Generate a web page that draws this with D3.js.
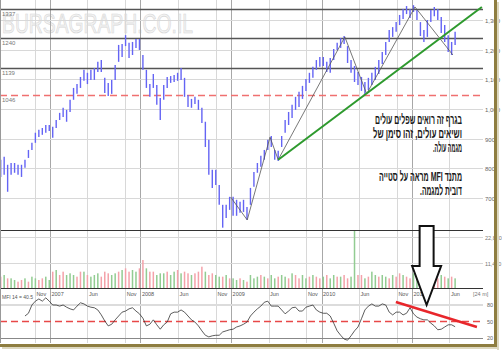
<!DOCTYPE html>
<html>
<head>
<meta charset="utf-8">
<script src="https://cdn.jsdelivr.net/npm/d3@7"></script>
<style>
  body { margin: 0; background: #fff; }
  svg { display: block; }
  text { font-family: "Liberation Sans", Arial, sans-serif; }
</style>
</head>
<body>
<div id="chart"></div>
<script>
// two-week bars, first bar 16 Jun 2006
const firstBar = new Date(2006, 5, 16);

const highs = [829, 839, 812, 818, 818, 812, 812, 829, 862, 886, 920, 930, 936, 946, 946, 940, 963, 987, 1004, 997,
  1031, 1071, 1084, 1108, 1132, 1122, 1132, 1138, 1159, 1165, 1105, 1088, 1098, 1148, 1216, 1219, 1249, 1223, 1226, 1236,
  1236, 1182, 1132, 1084, 1118, 1081, 1037, 1081, 1108, 1111, 1115, 1122, 1138, 1105, 1047, 1034, 1041, 1031, 1004, 957,
  896, 795, 795, 744, 677, 677, 704, 704, 694, 687, 694, 670, 734, 788, 818, 842, 862, 896, 909, 862,
  859, 909, 963, 990, 1014, 1041, 1058, 1078, 1101, 1122, 1142, 1165, 1175, 1175, 1159, 1172, 1202, 1223, 1239, 1246,
  1212, 1165, 1145, 1125, 1108, 1091, 1105, 1122, 1142, 1165, 1192, 1226, 1266, 1276, 1293, 1317, 1337, 1347, 1337, 1350,
  1334, 1293, 1266, 1300, 1334, 1344, 1337, 1310, 1283, 1249, 1226, 1260];

const lows = [771, 778, 721, 778, 785, 778, 771, 802, 835, 862, 886, 906, 913, 920, 926, 903, 936, 963, 973, 957,
  990, 1031, 1051, 1071, 1095, 1084, 1098, 1098, 1125, 1125, 1054, 1044, 1051, 1098, 1159, 1175, 1212, 1172, 1182, 1206,
  1199, 1132, 1071, 1041, 1071, 1014, 963, 1031, 1071, 1088, 1091, 1095, 1098, 1041, 1007, 1004, 1017, 997, 953, 872,
  778, 734, 744, 677, 600, 633, 660, 640, 640, 650, 653, 627, 677, 738, 785, 805, 829, 862, 872, 829,
  825, 872, 920, 946, 970, 997, 1007, 1034, 1061, 1088, 1105, 1132, 1142, 1145, 1125, 1122, 1165, 1199, 1206, 1219,
  1155, 1122, 1091, 1081, 1061, 1047, 1064, 1081, 1098, 1118, 1152, 1182, 1226, 1243, 1260, 1283, 1303, 1320, 1307, 1327,
  1300, 1246, 1226, 1243, 1293, 1313, 1300, 1256, 1226, 1192, 1182, 1216];

const volumes = [5080, 5830, 4330, 4330, 3590, 2840, 3590, 4330, 2840, 5080, 4330, 3590, 4330, 5080, 3590, 7320, 8070, 5830, 7320, 5830,
  6580, 5830, 5080, 7320, 7320, 5830, 5080, 5830, 6580, 5080, 7320, 6580, 5830, 6580, 7320, 8070, 8820, 7320, 8070, 7320,
  8820, 12550, 8820, 7320, 7320, 5830, 6580, 6580, 7320, 5830, 7320, 8070, 6580, 7320, 6580, 5830, 6580, 7320, 9560, 7320,
  5830, 6580, 5830, 5080, 5080, 5830, 4330, 4330, 3590, 4330, 3590, 2840, 5830, 4330, 5080, 5830, 5080, 4330, 5830, 4330,
  5080, 5830, 5080, 4330, 6580, 5830, 4330, 5830, 4330, 5080, 5830, 5080, 4330, 5080, 5830, 4330, 5830, 5080, 5080, 5830,
  4330, 5080, 26000, 5830, 5830, 4330, 5080, 7320, 5830, 5080, 5830, 5080, 4330, 5830, 5080, 6580, 5830, 5080, 4330, 6580,
  5830, 8820, 6580, 5830, 5080, 5830, 4330, 5830, 5080, 4330, 5080, 4330];

// volume bar colour as shown: g = up week, r = down week
const volDir = "rgrggrrgrg" + "grrggrgrrg" + "ggrrgrgggr" + "rrggrgrrgg" + "rrgrrgggrg" +
  "grgrrgrrrg" + "rrggrgrggr" + "grgggrgrgg" + "rggrgrrggr" + "grrgrggrgr" +
  "rggrrgrggr" + "ggrgrrgrrg" + "grrggrrgrg" + "rg";

// MFI(14) starts on bar 7
const mfiFirstBar = 7;
const mfi = [60, 65, 80, 87, 91, 87, 93, 87, 80, 80, 78, 80, 76, 73, 71, 78, 84, 82, 78, 76,
  75, 71, 62, 51, 42, 45, 53, 60, 67, 69, 73, 75, 69, 64, 56, 42, 45, 53, 44, 36,
  44, 49, 64, 67, 67, 71, 67, 60, 53, 49, 42, 33, 25, 22, 24, 25, 25, 31, 33, 35,
  36, 40, 42, 45, 49, 60, 67, 73, 78, 85, 87, 78, 78, 78, 71, 64, 69, 75, 76, 69,
  69, 76, 78, 80, 71, 67, 65, 65, 60, 47, 33, 25, 18, 16, 24, 33, 40, 55, 71, 78,
  82, 78, 78, 82, 80, 67, 62, 67, 67, 62, 65, 75, 64, 58, 55, 53, 53, 47, 42, 35,
  36, 40, 44, 44, 40.5];

const priceTicks = [700, 800, 900, 1000, 1100, 1200, 1300];
const resistLevels = [1337, 1240, 1139];
const supportLevel = 1046;
const volTicks = [11430, 22870];
const mfiTicks = [20, 50, 80];
const mfiLabel = "MFI 14 = 40.5";

const monthTicks = [
  ["2006-11-01", "Nov"], ["2007-01-01", "2007"], ["2007-06-01", "Jun"], ["2007-11-01", "Nov"],
  ["2008-01-01", "2008"], ["2008-06-01", "Jun"], ["2008-11-01", "Nov"], ["2009-01-01", "2009"],
  ["2009-06-01", "Jun"], ["2009-11-01", "Nov"], ["2010-01-01", "2010"], ["2010-06-01", "Jun"],
  ["2010-11-01", "Nov"], ["2011-01-01", "2011"], ["2011-06-01", "Jun"]
];

// swing points joined by the thin line
const swings = [["2008-12-30", 703], ["2009-03-07", 626], ["2009-06-07", 905], ["2009-07-10", 829],
  ["2010-04-05", 1243], ["2010-07-02", 1051], ["2011-01-13", 1344], ["2011-06-15", 1182]];
const trendLine = [["2009-07-10", 829], ["2011-10-10", 1344]];
const mfiDivergence = [["2010-10-28", 85.5], ["2011-09-20", 40]];
const arrowDate = "2011-03-01";

const notes = ["בגרף זה רואים שפלים עולים", "ושיאים עולים, זהו סימן של", "מגמה עולה.",
  "מתנד MFI מראה על סטייה", "דובית למגמה."];
const noteWidths = [87, 89, 29, 83, 42];

const W = 502, H = 352;
const plotRight = 483;
const pricePane = [0, 230], volPane = [230, 288], mfiPane = [288, 343];

const parse = d3.timeParse("%Y-%m-%d");
const dates = highs.map((d, i) => d3.timeDay.offset(firstBar, 14 * i));

const x = d3.scaleTime()
  .domain([new Date(2007, 0, 1), new Date(2011, 0, 1)])
  .range([50, 412]);
const yPrice = d3.scaleLinear().domain([700, 1300]).range([198, 20]);
const yVol = d3.scaleLinear().domain([0, 26000]).range([288, 230]);
const yMfi = d3.scaleLinear().domain([20, 80]).range([338, 305]);

const svg = d3.select("#chart").append("svg")
  .attr("width", W).attr("height", H);

svg.append("defs").append("clipPath").attr("id", "clipPrice")
  .append("rect").attr("x", 0).attr("y", 0).attr("width", plotRight).attr("height", pricePane[1]);

// watermark
svg.append("text")
  .attr("x", 2).attr("y", 33)
  .attr("textLength", 191).attr("lengthAdjust", "spacingAndGlyphs")
  .style("font-size", "28px")
  .attr("fill", "#f3f3f3").attr("stroke", "#d6d6d6").attr("stroke-width", 0.7)
  .text("BURSAGRAPH.CO.IL");

// vertical month grid through all panes
const grid = svg.append("g");
monthTicks.forEach(([d, lab]) => {
  const xx = Math.round(x(parse(d))) + 0.5;
  const isYear = /^\d{4}$/.test(lab);
  grid.append("line")
    .attr("x1", xx).attr("x2", xx).attr("y1", 0).attr("y2", mfiPane[1])
    .attr("stroke", isYear ? "#a8a8a8" : "#d8d8d8").attr("stroke-width", 1);
});

// price grid + right labels
priceTicks.forEach(v => {
  const yy = Math.round(yPrice(v)) + 0.5;
  grid.append("line").attr("x1", 0).attr("x2", plotRight).attr("y1", yy).attr("y2", yy)
    .attr("stroke", "#d8d8d8");
  svg.append("text").attr("x", plotRight + 2).attr("y", yy + 2)
    .style("font-size", "6px").attr("fill", "#666")
    .text(d3.format(",")(v));
});

// level lines
resistLevels.forEach(v => {
  const yy = Math.round(yPrice(v)) + 0.5;
  svg.append("line").attr("x1", 0).attr("x2", plotRight).attr("y1", yy).attr("y2", yy)
    .attr("stroke", "#555").attr("stroke-width", 1.3);
  svg.append("text").attr("x", 2).attr("y", yy + 6)
    .style("font-size", "6px").attr("fill", "#777").text(v);
});
{
  const yy = Math.round(yPrice(supportLevel)) + 0.5;
  svg.append("line").attr("x1", 0).attr("x2", plotRight).attr("y1", yy).attr("y2", yy)
    .attr("stroke", "#f07070").attr("stroke-width", 1.5).attr("stroke-dasharray", "7,4");
  svg.append("text").attr("x", 2).attr("y", yy + 6)
    .style("font-size", "6px").attr("fill", "#777").text(supportLevel);
}

// price bars
svg.append("g").attr("clip-path", "url(#clipPrice)")
  .selectAll("line").data(dates).join("line")
  .attr("x1", d => x(d)).attr("x2", d => x(d))
  .attr("y1", (d, i) => yPrice(highs[i])).attr("y2", (d, i) => yPrice(lows[i]))
  .attr("stroke", "#6464f4").attr("stroke-width", 1.4);

// swing line + trend line
const pline = d3.line().x(d => x(parse(d[0]))).y(d => yPrice(d[1]));
svg.append("path").attr("d", pline(swings))
  .attr("fill", "none").attr("stroke", "#555").attr("stroke-width", 0.8);
svg.append("path").attr("d", pline(trendLine))
  .attr("fill", "none").attr("stroke", "#2e9a2e").attr("stroke-width", 2);

// volume pane
volTicks.forEach(v => {
  const yy = Math.round(yVol(v)) + 0.5;
  grid.append("line").attr("x1", 0).attr("x2", plotRight).attr("y1", yy).attr("y2", yy)
    .attr("stroke", "#d8d8d8");
  svg.append("text").attr("x", plotRight + 2).attr("y", yy + 2)
    .style("font-size", "5.5px").attr("fill", "#777").text(d3.format(",")(v));
});
svg.append("g").selectAll("rect").data(dates).join("rect")
  .attr("x", d => x(d) - 0.75).attr("width", 1.5)
  .attr("y", (d, i) => yVol(volumes[i]))
  .attr("height", (d, i) => yVol(0) - yVol(volumes[i]))
  .attr("fill", (d, i) => volDir[i] === "g" ? "#92cc92" : "#f4a2aa");

// MFI pane
svg.append("line").attr("x1", 0).attr("x2", plotRight)
  .attr("y1", yMfi(80)).attr("y2", yMfi(80)).attr("stroke", "#dcdcdc").attr("stroke-width", 2);
svg.append("line").attr("x1", 0).attr("x2", plotRight)
  .attr("y1", yMfi(50)).attr("y2", yMfi(50))
  .attr("stroke", "#e84848").attr("stroke-width", 1.3).attr("stroke-dasharray", "7,4");
svg.append("line").attr("x1", 0).attr("x2", plotRight)
  .attr("y1", yMfi(20) + 0.5).attr("y2", yMfi(20) + 0.5).attr("stroke", "#888");
mfiTicks.forEach(v => {
  svg.append("text").attr("x", plotRight + 4).attr("y", yMfi(v) + 2)
    .style("font-size", "5.5px").attr("fill", "#666").text(v);
});
svg.append("path")
  .attr("d", d3.line().x((d, i) => x(dates[i + mfiFirstBar])).y(d => yMfi(d))(mfi))
  .attr("fill", "none").attr("stroke", "#333").attr("stroke-width", 0.8);
svg.append("path")
  .attr("d", d3.line().x(d => x(parse(d[0]))).y(d => yMfi(d[1]))(mfiDivergence))
  .attr("fill", "none").attr("stroke", "#e8262b").attr("stroke-width", 2.5);

// month labels + MFI caption
monthTicks.forEach(([d, lab]) => {
  svg.append("text").attr("x", x(parse(d)) + 1.5).attr("y", 296)
    .style("font-size", "5.5px").attr("fill", "#555").text(lab);
});
svg.append("text").attr("x", 473).attr("y", 296)
  .style("font-size", "5.5px").attr("fill", "#777").text("[24 m]");
svg.append("text").attr("x", 2).attr("y", 299)
  .style("font-size", "5px").attr("fill", "#555").text(mfiLabel);

// pane borders
[volPane[0], volPane[1]].forEach(yy => {
  svg.append("line").attr("x1", 0).attr("x2", plotRight).attr("y1", yy + 0.5).attr("y2", yy + 0.5)
    .attr("stroke", "#333").attr("stroke-width", 1.2);
});
svg.append("line").attr("x1", 0.5).attr("x2", 0.5).attr("y1", 0).attr("y2", mfiPane[1])
  .attr("stroke", "#999");

// arrow
{
  const cx = x(parse(arrowDate));
  const top = volPane[0] - 4, neck = 266, tip = yMfi(80);
  const pts = [[cx - 7, top], [cx + 7, top], [cx + 7, neck], [cx + 14.5, neck], [cx, tip],
    [cx - 14.5, neck], [cx - 7, neck]];
  svg.append("path").attr("d", d3.line()(pts) + "Z")
    .attr("fill", "#fff").attr("stroke", "#111").attr("stroke-width", 2).attr("stroke-linejoin", "miter");
}

// Hebrew notes: right edge at x = 462, squeezed horizontally like a narrow bold face
const noteY = [124, 138, 152, 181, 195];
notes.forEach((t, i) => {
  const g = svg.append("g");
  const txt = g.append("text")
    .attr("x", 0).attr("y", 0)
    .attr("text-anchor", "end")
    .style("font-size", "13.5px").style("font-weight", "bold")
    .attr("fill", "#1a1a1a")
    .text("\u202B" + t + "\u202C");
  const w = txt.node().getComputedTextLength();
  g.attr("transform", `translate(462,${noteY[i]}) scale(${noteWidths[i] / w},1)`);
});

// frame
svg.append("rect").attr("x", 494).attr("y", 0).attr("width", 3).attr("height", 348).attr("fill", "#8e7d40");
svg.append("rect").attr("x", 0).attr("y", 344).attr("width", 497).attr("height", 3).attr("fill", "#8e7d40");
svg.append("rect").attr("x", 497).attr("y", 2).attr("width", 2).attr("height", 348).attr("fill", "#ddd8c0");
svg.append("rect").attr("x", 2).attr("y", 347).attr("width", 497).attr("height", 2).attr("fill", "#ddd8c0");
</script>
</body>
</html>
